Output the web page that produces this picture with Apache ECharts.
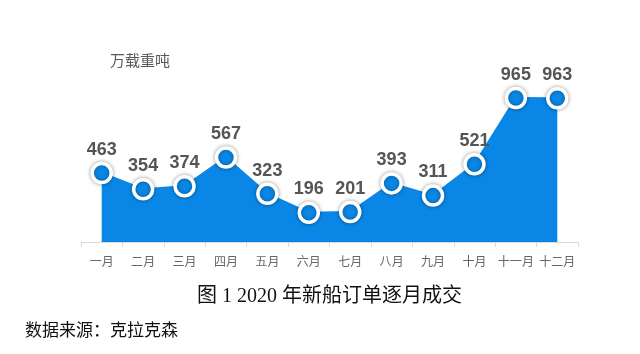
<!DOCTYPE html>
<html><head><meta charset="utf-8">
<script src="https://cdn.jsdelivr.net/npm/echarts@6/dist/echarts.min.js"></script>
<style>html,body{margin:0;padding:0;background:#fff}#c{width:640px;height:354px}</style>
</head><body><div id="c"></div>
<script>
const categories = ['一月','二月','三月','四月','五月','六月','七月','八月','九月','十月','十一月','十二月'];
const values = [463,354,374,567,323,196,201,393,311,521,965,963];
const unitLabel = '万载重吨';
const titleText = '图 1 2020 年新船订单逐月成交';
const sourceText = '数据来源：克拉克森';

const chart = echarts.init(document.getElementById('c'));
chart.setOption({
  animation: false,
  backgroundColor: '#fff',
  grid: {left: 81, right: 62, top: 63, bottom: 112},
  graphic: [
    {type: 'text', left: 110, top: 53, style: {text: unitLabel, fill: '#595959', font: '15px "Noto Sans CJK SC"'}},
    {type: 'text', left: 197, top: 287, style: {text: titleText, fill: '#111', font: '20px "Liberation Serif", "Noto Sans CJK SC"'}},
    {type: 'text', left: 25, top: 323, style: {text: sourceText, fill: '#111', font: '17px "Liberation Serif", "Noto Sans CJK SC"'}}
  ],
  xAxis: {
    type: 'category', data: categories, boundaryGap: true,
    axisLine: {lineStyle: {color: '#d9d9d9'}},
    axisTick: {show: true, lineStyle: {color: '#d9d9d9'}},
    axisLabel: {interval: 0, color: '#666', fontSize: 12, margin: 13, fontFamily: 'Noto Sans CJK SC'}
  },
  yAxis: {
    type: 'value', min: 0, max: 1200, show: false, splitLine: {show: false}
  },
  series: [{
    type: 'line', data: values,
    lineStyle: {color: '#0a87e6', width: 2},
    areaStyle: {color: '#0a87e6', opacity: 1},
    symbol: 'circle', symbolSize: 19,
    itemStyle: {color: '#0a87e6', borderColor: '#fff', borderWidth: 3.5, shadowBlur: 4, shadowColor: 'rgba(0,0,0,0.35)'},
    label: {show: true, position: 'top', distance: 3, color: '#555', fontSize: 18, fontWeight: 'bold', fontFamily: '"Liberation Sans", Arial, sans-serif'}
  }]
});
</script></body></html>
